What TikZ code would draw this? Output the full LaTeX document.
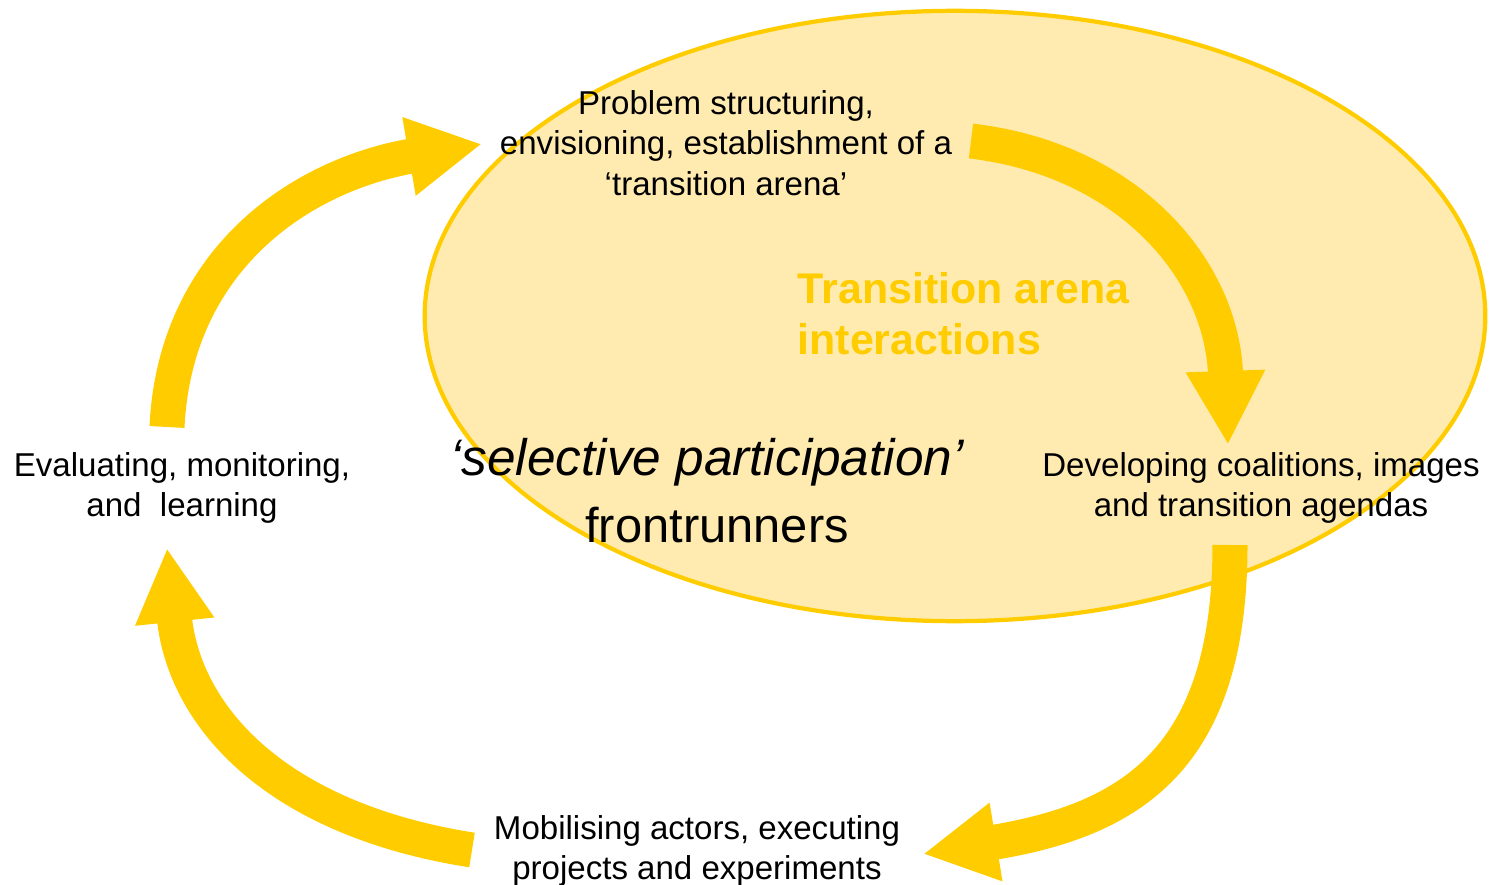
\documentclass[tikz,border=0pt]{standalone}
\usepackage{fontspec}
\setmainfont{Liberation Sans}
\setsansfont{Liberation Sans}
\usepackage{tikz}
\usetikzlibrary{arrows.meta,shapes.geometric,positioning}
\tikzstyle{every picture}+=[font=\sffamily]
\definecolor{gold}{HTML}{FFCC00}
\definecolor{palegold}{HTML}{FFEBB0}

\begin{document}
\begin{tikzpicture}
	[x=0.01cm, y=-0.01cm, inner sep=0pt,
	arena/.style	= {ellipse, draw=gold, fill=palegold, line width=1.2pt, minimum width=10.6cm, minimum height=6.1cm},
	stage/.style	= {align=center, font=\sffamily\fontsize{9.4}{11.6}\selectfont},
	actors/.style	= {font=\sffamily\fontsize{13.9}{16}\selectfont},
	heading/.style	= {align=left, anchor=west, text=gold, font=\sffamily\bfseries\fontsize{12.2}{14.5}\selectfont},
	flow/.style	= {draw=gold, line width=3.5mm, -{Triangle[width=7.4mm, length=7.4mm]}}]
	
	\useasboundingbox (0,0) rectangle (1493,885);
	
	\node at (955, 316)	[arena]		(ell)	{};
	
	% ends of the four cycle arrows
	\coordinate (a1) at (971, 141);	\coordinate (b1) at (1228, 445);
	\coordinate (a2) at (1230, 545);	\coordinate (b2) at (923, 854);
	\coordinate (a3) at (472, 850);	\coordinate (b3) at (167, 548);
	\coordinate (a4) at (167, 427);	\coordinate (b4) at (482, 144);
	
	\draw [flow] (a1) .. controls (1130, 160) and (1222, 270) .. (b1);
	\draw [flow] (a2) .. controls (1230, 760) and (1130, 820) .. (b2);
	\draw [flow] (a3) .. controls (280, 820) and (185, 720) .. (b3);
	\draw [flow] (a4) .. controls (175, 260) and (300, 175) .. (b4);
	
	\node at (726, 143)	[stage]		(prob)	{Problem structuring,\\envisioning, establishment of a\\‘transition arena’};
	\node at (1261, 488)	[stage]		(dev)	{Developing coalitions, images\\and transition agendas};
	\node at (697, 851)	[stage]		(mob)	{Mobilising actors, executing\\projects and experiments};
	\node at (182, 488)	[stage]		(eval)	{Evaluating, monitoring,\\and\ \ learning};
	
	\node at (797, 314)	[heading]	(title)	{Transition arena\\interactions};
	\node at (707, 462)	[actors, font=\sffamily\itshape\fontsize{14.6}{16}\selectfont]	(sel)	{‘selective participation’};
	\node at (717, 525)	[actors]	(front)	{frontrunners};
\end{tikzpicture}
\end{document}
